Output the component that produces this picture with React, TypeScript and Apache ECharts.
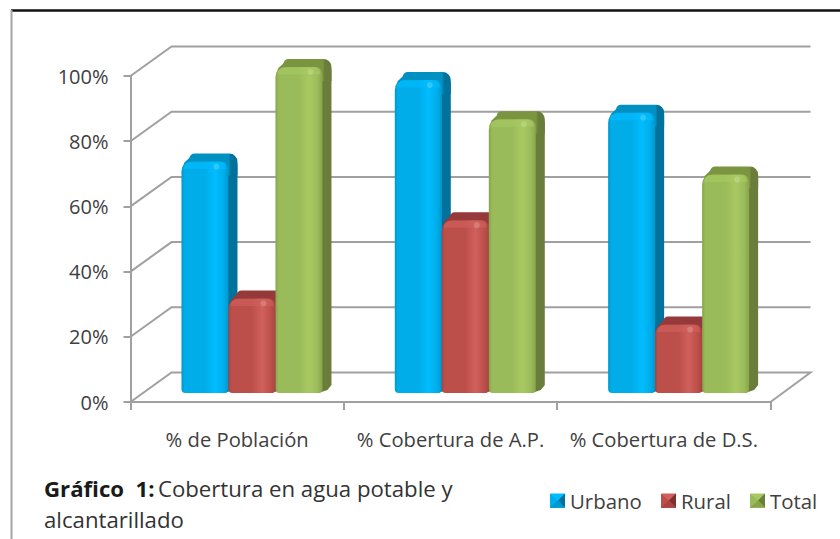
import React, { useEffect, useRef } from "react";
import * as echarts from "echarts";

const categories = ["% de Población", "% Cobertura de A.P.", "% Cobertura de D.S."];
const urbano = [71, 96, 86];
const rural = [29, 53, 21];
const total = [100, 84, 67];
const yTicks = [0, 20, 40, 60, 80, 100];
const seriesNames = ["Urbano", "Rural", "Total"];
const legendLefts = [545, 656, 745];

const palettes = [
  { main: "#00ade9", light: "#00bdff", edge: "#0098cf", side: "#00729c", top: "#0091c2" },
  { main: "#bd4f4b", light: "#d0605b", edge: "#a94440", side: "#7f2f2c", top: "#95393a" },
  { main: "#9abb59", light: "#a8c962", edge: "#87a44c", side: "#6a7d3b", top: "#7b9440" },
];

const FONT = "Open Sans";
const TEXT = "#404040";
const WALL_DX = 41;
const WALL_DY = 29.5;
const BAR_DX = 14.8;
const BAR_DY = 9;
const DEPTH_X = 9;
const DEPTH_Y = 8;
const GROUP = 141;

function hGrad(stops: [number, string][]) {
  return new echarts.graphic.LinearGradient(0, 0, 1, 0, stops.map(([offset, color]) => ({ offset, color })));
}

function barRenderer(index: number) {
  return (_params: any, api: any) => {
    const p = palettes[index];
    const cat = api.value(0);
    const val = api.value(1);
    const top = api.coord([cat, val]);
    const base = api.coord([cat, 0]);
    const w = GROUP / 3;
    const x = top[0] + BAR_DX - GROUP / 2 + index * w;
    const y = top[1] - BAR_DY;
    const b = base[1] - BAR_DY;
    const h = b - y;
    const stroke = { stroke: "none" };
    return {
      type: "group",
      children: [
        {
          type: "polygon",
          shape: {
            points: [
              [x + w - 4, b],
              [x + w + DEPTH_X - 4, b - 3],
              [x + w + DEPTH_X, b - 8],
              [x + w + DEPTH_X, y + 2],
              [x + w - 4, y + 4],
            ],
          },
          style: { fill: p.side, ...stroke },
        },
        {
          type: "rect",
          shape: { x: x + 8, y: y - DEPTH_Y, width: w + DEPTH_X - 8, height: 22, r: [5, 8, 0, 0] },
          style: {
            fill: new echarts.graphic.LinearGradient(0, 0, 1, 0, [
              { offset: 0, color: p.top },
              { offset: 0.82, color: p.top },
              { offset: 0.86, color: p.side },
              { offset: 1, color: p.side },
            ]),
            ...stroke,
          },
        },
        {
          type: "polygon",
          shape: {
            points: [
              [x + 0.5, y + 7],
              [x + 3, y + 1],
              [x + 12, y - DEPTH_Y + 0.5],
              [x + 20, y + 4],
            ],
          },
          style: { fill: p.top, ...stroke },
        },
        {
          type: "rect",
          shape: { x, y, width: w, height: h, r: [10, 7, 4, 4] },
          style: {
            fill: hGrad([
              [0, p.edge],
              [0.07, p.main],
              [0.5, p.main],
              [0.72, p.light],
              [0.9, p.main],
              [1, p.edge],
            ]),
            ...stroke,
          },
        },
        {
          type: "rect",
          shape: { x: x + 2, y: y + 0.5, width: w - 4, height: 7, r: [8, 6, 0, 0] },
          style: { fill: p.light, opacity: 0.6, ...stroke },
        },
        {
          type: "circle",
          shape: { cx: x + w - 12, cy: y + 5, r: 3 },
          style: { fill: "#ffffff", opacity: 0.18, ...stroke },
        },
      ],
    };
  };
}

function wallRenderer(_params: any, api: any) {
  const v = api.value(0);
  const start = api.coord([0, v]);
  const end = api.coord([2, v]);
  const left = start[0] - (end[0] - start[0]) / 4;
  const right = end[0] + (end[0] - start[0]) / 4;
  const lineStyle = { stroke: "#a0a0a0", lineWidth: 2, fill: "none" };
  const pts: number[][] = [
    [left, start[1]],
    [left + WALL_DX, start[1] - WALL_DY],
    [right + WALL_DX - 1, start[1] - WALL_DY],
  ];
  if (v === 0) pts.push([right, start[1]]);
  return { type: "polyline", shape: { points: pts }, style: lineStyle };
}

function legendBevel(i: number) {
  const p = palettes[i];
  const x = legendLefts[i] + 5;
  const y = 493.5;
  return [
    { type: "polygon", z: 50, shape: { points: [[x, y], [x + 15, y], [x + 8, y + 7]] }, style: { fill: p.light } },
    { type: "polygon", z: 50, shape: { points: [[x + 15, y], [x + 15, y + 14], [x + 8, y + 7]] }, style: { fill: p.side } },
    { type: "polygon", z: 50, shape: { points: [[x, y + 14], [x + 15, y + 14], [x + 8, y + 7]] }, style: { fill: p.edge } },
  ];
}

export default function App() {
  const ref = useRef<HTMLDivElement>(null);
  useEffect(() => {
    document.body.style.margin = "0";
    const chart = echarts.init(ref.current!, null, { renderer: "svg" });
    const values = [urbano, rural, total];
    chart.setOption({
      animation: false,
      backgroundColor: "#ffffff",
      grid: { left: 130.5, right: 69.5, top: 76, bottom: 137, containLabel: false },
      legend: seriesNames.map((name, i) => ({
        left: legendLefts[i],
        top: 486,
        itemWidth: 15,
        itemHeight: 14,
        icon: "rect",
        data: [{ name, itemStyle: { color: palettes[i].main } }],
        textStyle: { fontFamily: FONT, fontSize: 20.4, color: TEXT },
      })),
      xAxis: {
        type: "category",
        data: categories,
        axisLine: { lineStyle: { color: "#a0a0a0", width: 2 } },
        axisTick: { show: true, alignWithLabel: false, length: 8, lineStyle: { color: "#a0a0a0", width: 2 } },
        axisLabel: { fontFamily: FONT, fontSize: 20.2, color: TEXT, margin: 27, interval: 0 },
      },
      yAxis: {
        type: "value",
        min: 0,
        max: 100,
        interval: 20,
        splitLine: { show: false },
        axisLine: { show: true, lineStyle: { color: "#a0a0a0", width: 2 } },
        axisTick: { show: true, length: 7, lineStyle: { color: "#a0a0a0", width: 2 } },
        axisLabel: { fontFamily: FONT, fontSize: 20, color: TEXT, margin: 22, formatter: "{value}%" },
      },
      series: [
        {
          type: "custom",
          silent: true,
          legendHoverLink: false,
          renderItem: wallRenderer,
          data: yTicks.map((v) => [v]),
          encode: { y: 0 },
          z: 1,
          clip: false,
        },
        ...seriesNames.map((name, i) => ({
          name,
          type: "custom",
          renderItem: barRenderer(i),
          data: categories.map((_c, k) => [k, values[i][k]]),
          encode: { x: 0, y: 1 },
          itemStyle: { color: palettes[i].main },
          z: 2 + i,
          clip: false,
        })),
      ],
      graphic: [
        { type: "line", shape: { x1: 11, y1: 10.5, x2: 840, y2: 10.5 }, style: { stroke: "#111111", lineWidth: 2.5 } },
        { type: "line", shape: { x1: 11.5, y1: 10, x2: 11.5, y2: 539 }, style: { stroke: "#a6a6a6", lineWidth: 2 } },
        {
          type: "text",
          x: 44,
          y: 473,
          style: {
            rich: {
              b: { fontFamily: FONT, fontSize: 22.2, fontWeight: "bold", fill: "#1a1a1a", lineHeight: 31 },
              n: { fontFamily: FONT, fontSize: 22.2, fill: "#333333", lineHeight: 31 },
            },
            text: "{b|Gráfico  1:} {n|Cobertura en agua potable y}\n{n|alcantarillado}",
          },
        },
        ...legendBevel(0),
        ...legendBevel(1),
        ...legendBevel(2),
      ],
    });
    return () => chart.dispose();
  }, []);
  return <div ref={ref} style={{ width: 840, height: 539 }} />;
}
